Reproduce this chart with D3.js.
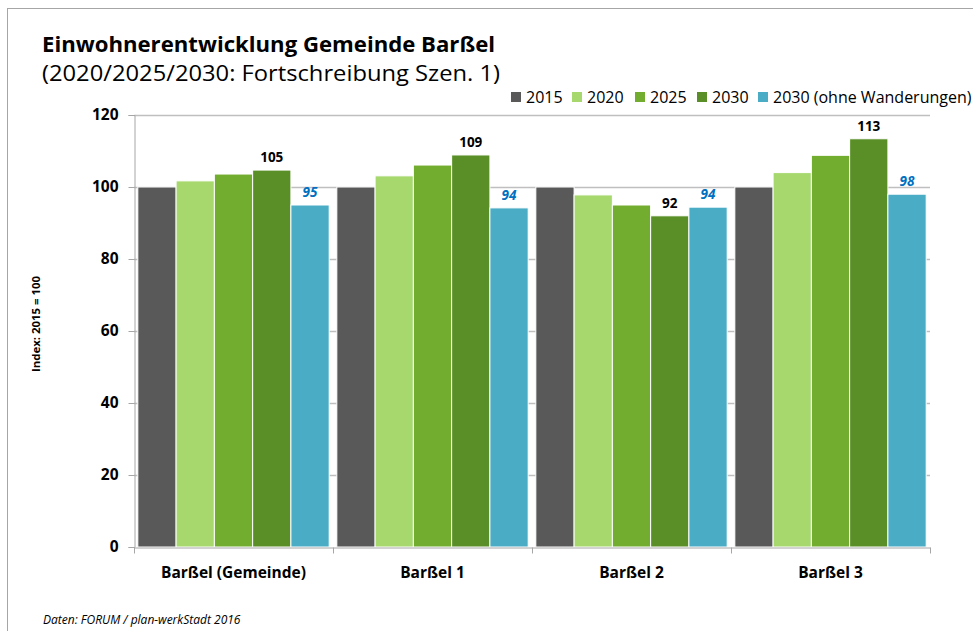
<!DOCTYPE html>
<html>
<head>
<meta charset="utf-8">
<script src="https://cdn.jsdelivr.net/npm/d3@7"></script>
<style>
  body { margin: 0; background: #fff; }
  svg { display: block; font-family: "Open Sans", "Noto Sans", sans-serif; }
</style>
</head>
<body>
<svg id="chart" width="973" height="631"></svg>
<script>
const categories = ["Barßel (Gemeinde)", "Barßel 1", "Barßel 2", "Barßel 3"];
const seriesNames = ["2015", "2020", "2025", "2030", "2030 (ohne Wanderungen)"];
const seriesColors = ["#595959", "#a6d86e", "#72ad2f", "#5a8f27", "#4bacc6"];
const values2015 = [100, 100, 100, 100];
const values2020 = [101.7, 103.1, 97.8, 104.0];
const values2025 = [103.6, 106.1, 95.0, 108.8];
const values2030 = [104.7, 108.9, 92.0, 113.4];
const valuesOhne = [95.0, 94.2, 94.4, 98.0];
const yTicks = [0, 20, 40, 60, 80, 100, 120];

const series = [values2015, values2020, values2025, values2030, valuesOhne];

const svg = d3.select("#chart");
const margin = {left: 134, right: 43, top: 115, bottom: 84};
const width = 973, height = 631;

// frame
svg.append("rect")
    .attr("x", 7.5).attr("y", 8.5)
    .attr("width", 980).attr("height", 640)
    .attr("fill", "none").attr("stroke", "#a6a6a6");

const x0 = d3.scaleBand()
    .domain(categories)
    .range([margin.left, width - margin.right]);
const x1 = d3.scaleBand()
    .domain(d3.range(seriesNames.length))
    .range([0, x0.bandwidth()])
    .paddingOuter(0.1);
const y = d3.scaleLinear()
    .domain([0, 120])
    .range([height - margin.bottom, margin.top]);

// gridlines
svg.append("g").selectAll("line")
    .data(yTicks.filter(d => d > 0))
    .join("line")
    .attr("x1", margin.left).attr("x2", width - margin.right)
    .attr("y1", d => y(d) + 0.5).attr("y2", d => y(d) + 0.5)
    .attr("stroke", "#bfbfbf").attr("stroke-width", 1.5);

// bars
const groups = svg.append("g").selectAll("g")
    .data(categories)
    .join("g")
    .attr("transform", d => `translate(${x0(d)},0)`);

groups.selectAll("rect")
    .data((c, ci) => series.map((s, si) => ({si, v: s[ci]})))
    .join("rect")
    .attr("x", d => x1(d.si))
    .attr("width", x1.bandwidth())
    .attr("y", d => y(d.v))
    .attr("height", d => y(0) - y(d.v))
    .attr("fill", d => seriesColors[d.si])
    .attr("stroke", "#fff").attr("stroke-width", 1);

// value labels for 2030 and 2030 (ohne Wanderungen)
groups.selectAll("text.v")
    .data((c, ci) => [3, 4].map(si => ({si, v: series[si][ci]})))
    .join("text")
    .attr("class", "v")
    .attr("x", d => x1(d.si) + x1.bandwidth() / 2)
    .attr("y", d => y(d.v) - 8)
    .attr("text-anchor", "middle")
    .attr("font-size", 13.5)
    .attr("font-weight", "bold")
    .attr("font-style", d => d.si === 4 ? "italic" : "normal")
    .attr("fill", d => d.si === 4 ? "#0070c0" : "#000")
    .text(d => Math.round(d.v));

// y axis
const yAxis = svg.append("g")
    .attr("transform", `translate(${margin.left + 0.5},0)`)
    .call(d3.axisLeft(y).tickValues(yTicks).tickSize(6).tickPadding(10));
yAxis.select(".domain").attr("stroke", "#a6a6a6");
yAxis.selectAll(".tick line").attr("stroke", "#a6a6a6");
yAxis.selectAll("text")
    .attr("font-size", 15.5).attr("font-weight", "bold")
    .attr("fill", "#000").attr("font-family", "Open Sans, sans-serif");

// x axis
const xAxis = svg.append("g")
    .attr("transform", `translate(0,${height - margin.bottom + 0.5})`)
    .call(d3.axisBottom(x0).tickSize(0).tickPadding(19));
xAxis.select(".domain").attr("stroke", "#a6a6a6");
xAxis.selectAll("text")
    .attr("font-size", 15.5).attr("font-weight", "bold")
    .attr("fill", "#000").attr("font-family", "Open Sans, sans-serif");
xAxis.selectAll("line.sep")
    .data(categories.map(c => x0(c)).concat([width - margin.right]))
    .join("line")
    .attr("class", "sep")
    .attr("x1", d => d + 0.5).attr("x2", d => d + 0.5)
    .attr("y1", 0).attr("y2", 6)
    .attr("stroke", "#a6a6a6");

// axis title
svg.append("text")
    .attr("transform", `translate(40,324) rotate(-90)`)
    .attr("text-anchor", "middle")
    .attr("font-size", 10.5).attr("font-weight", "bold")
    .attr("textLength", 96).attr("lengthAdjust", "spacingAndGlyphs")
    .text("Index: 2015 = 100");

// titles
svg.append("text")
    .attr("x", 42).attr("y", 52)
    .attr("font-size", 22).attr("font-weight", "bold")
    .attr("textLength", 453).attr("lengthAdjust", "spacingAndGlyphs")
    .text("Einwohnerentwicklung Gemeinde Barßel");
svg.append("text")
    .attr("x", 42).attr("y", 81)
    .attr("font-size", 22)
    .attr("textLength", 458).attr("lengthAdjust", "spacingAndGlyphs")
    .text("(2020/2025/2030: Fortschreibung Szen. 1)");

// legend
const legendX = [511, 572, 635, 697, 758];
const legend = svg.append("g").selectAll("g")
    .data(seriesNames)
    .join("g")
    .attr("transform", (d, i) => `translate(${legendX[i]},92)`);
legend.append("rect")
    .attr("width", 10).attr("height", 10)
    .attr("fill", (d, i) => seriesColors[i]);
legend.append("text")
    .attr("x", 15).attr("y", 10.5)
    .attr("font-size", 16)
    .text(d => d);

// footer
svg.append("text")
    .attr("x", 43).attr("y", 624)
    .attr("font-size", 12).attr("font-style", "italic")
    .text("Daten:  FORUM / plan-werkStadt 2016");
</script>
</body>
</html>
